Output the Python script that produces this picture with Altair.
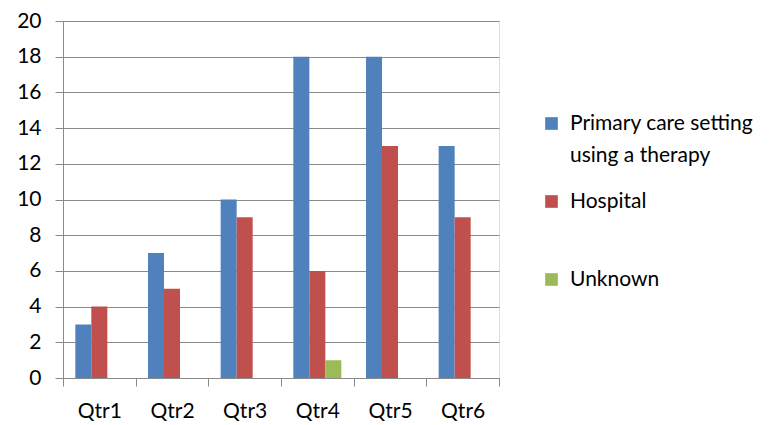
import altair as alt
import pandas as pd

quarters = ["Qtr1", "Qtr2", "Qtr3", "Qtr4", "Qtr5", "Qtr6"]
series = ["Primary care setting using a therapy", "Hospital", "Unknown"]
primary = [3, 7, 10, 18, 18, 13]
hospital = [4, 5, 9, 6, 13, 9]
unknown = [0, 0, 0, 1, 0, 0]
colors = ["#4F81BD", "#C0504D", "#9BBB59"]
y_ticks = list(range(0, 21, 2))

rows = []
for i, q in enumerate(quarters):
    for s, vals in zip(series, [primary, hospital, unknown]):
        rows.append({"quarter": q, "series": s, "value": vals[i]})
df = pd.DataFrame(rows)

FONT = "Lato"
GRID = "#8a8a8a"

chart = alt.Chart(df).mark_bar().encode(
    x=alt.X(
        "quarter:N", sort=quarters,
        scale=alt.Scale(paddingInner=0, paddingOuter=0),
        axis=alt.Axis(title=None, labelAngle=0, tickBand="extent", tickSize=8,
                      tickColor=GRID, domainColor=GRID, labelFontSize=21,
                      labelLineHeight=21,
                      labelColor="#000000", labelPadding=14, grid=False, labelFont=FONT),
    ),
    xOffset=alt.XOffset("series:N", sort=series,
                        scale=alt.Scale(paddingInner=0, paddingOuter=0.77)),
    y=alt.Y(
        "value:Q", scale=alt.Scale(domain=[0, 20]),
        axis=alt.Axis(title=None, values=y_ticks, tickSize=8, tickColor=GRID,
                      domainColor=GRID, gridColor=GRID, grid=True, labelFontSize=21,
                      labelLineHeight=21,
                      labelColor="#000000", labelPadding=14, labelFont=FONT),
    ),
    color=alt.Color(
        "series:N", sort=series,
        scale=alt.Scale(domain=series, range=colors),
        legend=alt.Legend(
            title=None, orient="none", legendX=478, legendY=92,
            symbolType="square", symbolSize=160, symbolStrokeWidth=0,
            labelFontSize=21, labelFont=FONT, labelColor="#000000", labelLimit=400,
            rowPadding=24, labelOffset=8,
            labelExpr="datum.label == 'Primary care setting using a therapy' ? ['Primary care setting', 'using a therapy'] : [datum.label, ' ']",
        ),
    ),
).properties(
    width=436, height=357,
    autosize=alt.AutoSizeParams(type="none"),
    padding={"left": 55, "top": 13, "right": 268, "bottom": 44},
).configure_view(stroke=None).configure(
    font=FONT, style={"guide-label": {"lineHeight": 32}}
)

chart.save("out.html", embed_options={"renderer": "svg", "actions": False})
